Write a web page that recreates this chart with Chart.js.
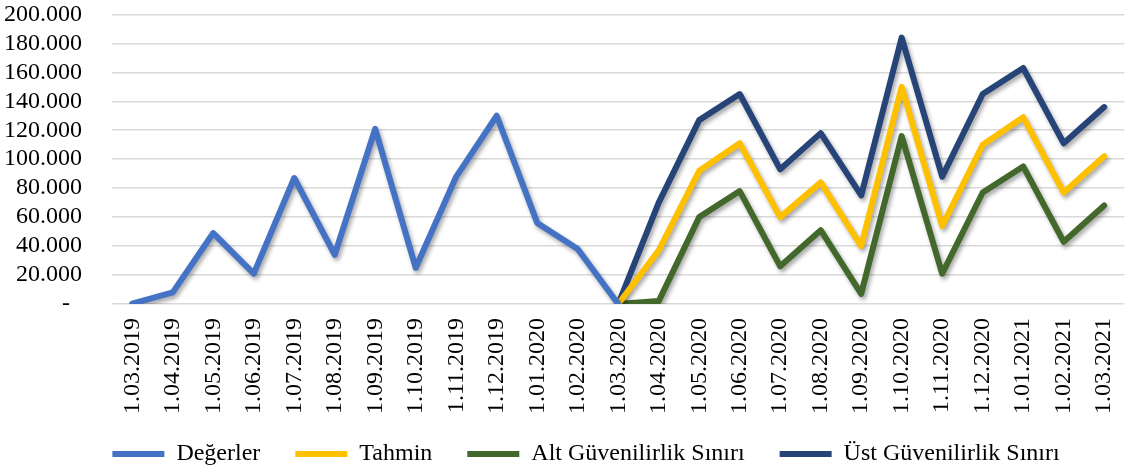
<!DOCTYPE html>
<html>
<head>
<meta charset="utf-8">
<script src="https://cdn.jsdelivr.net/npm/chart.js@4"></script>
<style>
    html, body { margin: 0; padding: 0; background: #ffffff; }
    #wrap { width: 1147px; height: 468px; }
</style>
</head>
<body>
<div id="wrap"><canvas id="forecastChart"></canvas></div>
<script>
// Monthly labels
const months = [
    '1.03.2019', '1.04.2019', '1.05.2019', '1.06.2019', '1.07.2019', '1.08.2019',
    '1.09.2019', '1.10.2019', '1.11.2019', '1.12.2019', '1.01.2020', '1.02.2020',
    '1.03.2020', '1.04.2020', '1.05.2020', '1.06.2020', '1.07.2020', '1.08.2020',
    '1.09.2020', '1.10.2020', '1.11.2020', '1.12.2020', '1.01.2021', '1.02.2021',
    '1.03.2021'
];

// Observed values
const degerler = [300, 8000, 49000, 21000, 87000, 34000, 121000, 25000, 88000, 130000, 56000, 38000, 0,
    null, null, null, null, null, null, null, null, null, null, null, null];

// Forecast and confidence bounds
const tahmin = [null, null, null, null, null, null, null, null, null, null, null, null,
    0, 37000, 92000, 111000, 60000, 84000, 40000, 150000, 54000, 110000, 129000, 77000, 102000];
const altSinir = [null, null, null, null, null, null, null, null, null, null, null, null,
    0, 2000, 60000, 78000, 26000, 51000, 7000, 116000, 21000, 77000, 95000, 43000, 68000];
const ustSinir = [null, null, null, null, null, null, null, null, null, null, null, null,
    0, 70000, 127000, 145000, 93000, 118000, 75000, 184000, 88000, 145000, 163000, 111000, 136000];

const fontFamily = "'Liberation Serif', 'Times New Roman', serif";

// Soft drop shadow under the lines
const shadowPlugin = {
    id: 'lineShadow',
    beforeDatasetsDraw(chart) {
        const ctx = chart.ctx;
        ctx.save();
        ctx.shadowColor = 'rgba(0, 0, 0, 0.35)';
        ctx.shadowBlur = 4;
        ctx.shadowOffsetX = 2;
        ctx.shadowOffsetY = 3;
    },
    afterDatasetsDraw(chart) {
        chart.ctx.restore();
    }
};

// Let tick labels spill past their scale boxes instead of being clipped
const labelAreaPlugin = {
    id: 'labelArea',
    afterLayout(chart) {
        chart.scales.y.left = 0;
        chart.scales.x.bottom = chart.height;
    }
};

function makeDataset(label, data, color) {
    return {
        label: label,
        data: data,
        borderColor: color,
        backgroundColor: color,
        borderWidth: 6,
        borderCapStyle: 'round',
        borderJoinStyle: 'round',
        pointRadius: 0,
        pointHoverRadius: 0,
        tension: 0,
        fill: false
    };
}

const ctx = document.getElementById('forecastChart').getContext('2d');

new Chart(ctx, {
    type: 'line',
    data: {
        labels: months,
        datasets: [
            makeDataset('Değerler', degerler, '#4472C4'),
            makeDataset('Tahmin', tahmin, '#FFC000'),
            makeDataset('Alt Güvenilirlik Sınırı', altSinir, '#43682B'),
            makeDataset('Üst Güvenilirlik Sınırı', ustSinir, '#264478')
        ]
    },
    options: {
        responsive: true,
        maintainAspectRatio: false,
        animation: false,
        layout: {
            padding: { top: 0, right: 1, left: 26, bottom: -8 }
        },
        scales: {
            x: {
                offset: true,
                grid: { display: false, drawTicks: false },
                border: { display: false },
                ticks: {
                    color: '#000000',
                    font: { family: fontFamily, size: 24 },
                    minRotation: 90,
                    maxRotation: 90,
                    autoSkip: false,
                    padding: 14
                },
                afterFit: function(scale) {
                    scale.height = 103;
                }
            },
            y: {
                min: 0,
                max: 200000,
                grid: {
                    color: '#D9D9D9',
                    lineWidth: 1.5,
                    drawTicks: true,
                    tickLength: 30,
                    tickColor: 'rgba(0, 0, 0, 0)'
                },
                border: { display: false },
                ticks: {
                    stepSize: 20000,
                    autoSkip: false,
                    color: '#000000',
                    font: { family: fontFamily, size: 24 },
                    padding: 0,
                    callback: function(value) {
                        if (value === 0) return '-  ';
                        return (value / 1000).toFixed(0) + '.000';
                    }
                },
                afterFit: function(scale) {
                    scale.width = 86;
                }
            }
        },
        plugins: {
            legend: {
                position: 'bottom',
                labels: {
                    color: '#000000',
                    font: { family: fontFamily, size: 24 },
                    usePointStyle: true,
                    pointStyle: 'line',
                    pointStyleWidth: 52,
                    padding: 35
                }
            },
            tooltip: { enabled: false }
        }
    },
    plugins: [shadowPlugin, labelAreaPlugin]
});
</script>
</body>
</html>
